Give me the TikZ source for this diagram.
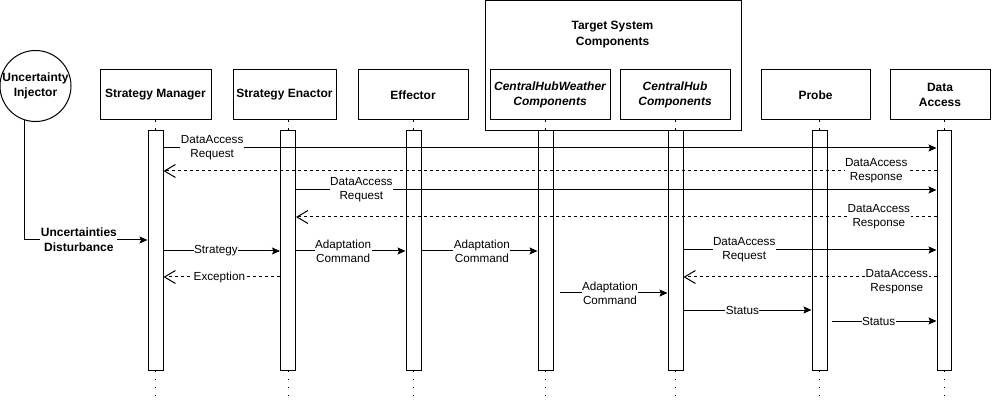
\documentclass[tikz,border=0pt]{standalone}
\usepackage{fontspec}
\setmainfont{Liberation Sans}
\usetikzlibrary{arrows.meta}

\begin{document}
\begin{tikzpicture}[x=1pt,y=-1pt,line width=1pt,>={Stealth[length=8pt,width=7pt,inset=1.5pt]},font=\fontsize{11.7}{14}\selectfont]
    \tikzstyle{head}=[draw, rectangle, minimum height=50pt, inner sep=0pt, align=center, font=\fontsize{12}{15}\selectfont\bfseries]
    \tikzstyle{bar}=[draw, fill=white, rectangle, anchor=north, minimum width=15pt, minimum height=240pt, inner sep=0pt]
    \tikzstyle{life}=[dash pattern=on 1.2pt off 6.8pt]
    \tikzstyle{msg}=[->]
    \tikzstyle{reply}=[-{Straight Barb[length=11pt,width=13pt]}, dash pattern=on 3pt off 3pt]
    \tikzstyle{lbl}=[fill=white, align=center, inner sep=0.5pt]
    \useasboundingbox (0,0) rectangle (1001,403);
    % actors
    \node[draw, circle, minimum size=70pt, inner sep=0pt, align=center, font=\fontsize{12}{15}\selectfont\bfseries] (inj) at (35.5,86) {Uncertainty\\Injector};
    \node[head, minimum width=111pt] (sm) at (155.5,95) {Strategy Manager};
    \node[head, minimum width=103pt] (se) at (284.5,95) {Strategy Enactor};
    \node[head, minimum width=110pt] (eff) at (413,95) {Effector};
    \node[draw, minimum width=256pt, minimum height=130pt, inner sep=0pt] (tgt) at (613,66) {};
    \node[align=center, font=\fontsize{12}{16}\selectfont\bfseries] (tgttitle) at (612.5,35) {Target System\\Components};
    \node[head, minimum width=120pt, font=\fontsize{12}{15}\selectfont\bfseries\itshape] (chw) at (550,95) {CentralHubWeather\\Components};
    \node[head, minimum width=110pt, font=\fontsize{12}{15}\selectfont\bfseries\itshape] (ch) at (675,95) {CentralHub\\Components};
    \node[head, minimum width=109pt] (probe) at (815.5,95) {Probe};
    \node[head, minimum width=100pt] (da) at (940,95) {Data\\Access};
    % activation bars
    \node[bar] (smbar) at (155.5,130) {};
    \node[bar] (sebar) at (288,130) {};
    \node[bar] (effbar) at (413.5,130) {};
    \node[bar] (chwbar) at (545.5,130) {};
    \node[bar] (chbar) at (675.5,130) {};
    \node[bar] (probebar) at (819.5,130) {};
    \node[bar, minimum width=14pt] (dabar) at (944,130) {};
    % lifelines
    \foreach \h/\b in {sm/smbar, se/sebar, eff/effbar, chw/chwbar, ch/chbar, probe/probebar, da/dabar} {
        \draw[life] (\h.south -| \b.north) -- (\b.north);
        \draw[life] (\b.south) -- ++(0,28);
    }
    \coordinate (cmdsrc) at (560,293);
    % messages
    \draw[msg] (inj.253) |- node[lbl, pos=0.72, font=\fontsize{12}{15}\selectfont\bfseries]{Uncertainties\\Disturbance} (smbar.west |- 0,240);
    \path (smbar.east |- 0,148) edge[msg] node[lbl, pos=0.063]{DataAccess\\Request} (dabar.west |- 0,148);
    \path (dabar.west |- 0,171) edge[reply] node[lbl, pos=0.078]{DataAccess\\Response} (smbar.east |- 0,171);
    \path (sebar.east |- 0,190) edge[msg] node[lbl, pos=0.102]{DataAccess\\Request} (dabar.west |- 0,190);
    \path (dabar.west |- 0,217) edge[reply] node[lbl, pos=0.09]{DataAccess\\Response} (sebar.east |- 0,217);
    \path (smbar.east |- 0,251) edge[msg] node[lbl, pos=0.45]{Strategy} (sebar.west |- 0,251);
    \path (sebar.east |- 0,251) edge[msg] node[lbl, pos=0.43]{Adaptation\\Command} (effbar.west |- 0,251);
    \path (effbar.east |- 0,251) edge[msg] node[lbl, pos=0.52]{Adaptation\\Command} (chwbar.west |- 0,251);
    \path (sebar.west |- 0,277) edge[reply] node[lbl, pos=0.52]{Exception} (smbar.east |- 0,277);
    \path (chbar.east |- 0,250) edge[msg] node[lbl, pos=0.24]{DataAccess\\Request} (dabar.west |- 0,250);
    \path (dabar.west |- 0,277) edge[reply] node[lbl, pos=0.157, yshift=-5pt]{DataAccess\\Response} (chbar.east |- 0,277);
    \path (cmdsrc) edge[msg] node[lbl, pos=0.465]{Adaptation\\Command} (chbar.west |- cmdsrc);
    \path (chbar.east |- 0,310) edge[msg] node[lbl, pos=0.46]{Status} (probebar.west |- 0,310);
    \path ([xshift=4pt]probebar.east |- 0,321) edge[msg] node[lbl, pos=0.45]{Status} (dabar.west |- 0,321);
\end{tikzpicture}
\end{document}
